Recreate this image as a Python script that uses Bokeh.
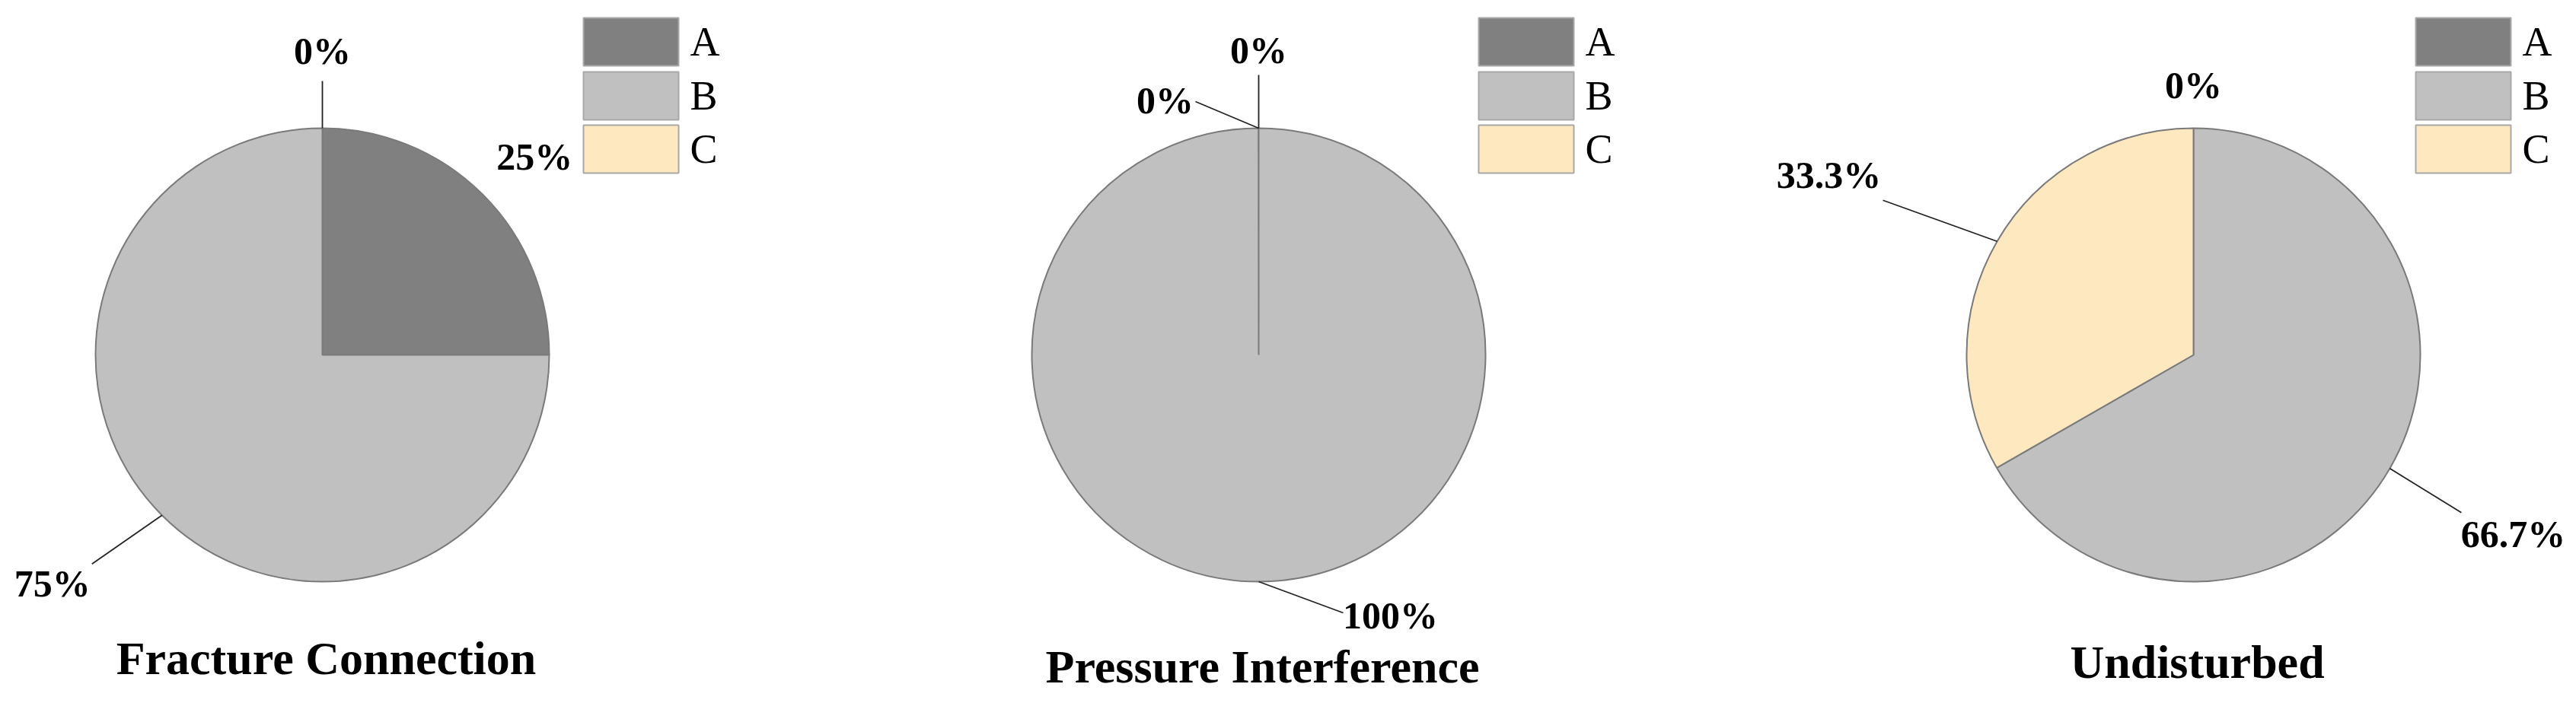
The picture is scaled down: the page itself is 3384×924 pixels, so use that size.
import math
from bokeh.plotting import figure
from bokeh.models import Range1d, ColumnDataSource
from bokeh.core.properties import value
from bokeh.embed import file_html
from bokeh.resources import INLINE

# ---------------- data ----------------
categories = ["A", "B", "C"]
panel_titles = ["Fracture Connection", "Pressure Interference", "Undisturbed"]
fracture_connection = [25.0, 75.0, 0.0]
pressure_interference = [0.0, 100.0, 0.0]
undisturbed = [0.0, 66.7, 33.3]
slice_colors = ["#808080", "#C0C0C0", "#FDE8C0"]

panels = [fracture_connection, pressure_interference, undisturbed]

# ---------------- layout (screen px, y down) ----------------
W, H = 3376, 916
centers = [(423, 466), (1653, 466), (2881, 466)]
R = 298
legend_x = [766, 1942, 3173]
legend_tops = [23, 94, 164]
BOX_W, BOX_H = 125, 63
title_y = [864, 875, 869]
# per panel, per category: (leader dx, leader dy, label dx, label dy) relative to slice edge midpoint
label_layout = [
    [(0, 0, 68, -50), (-92, 64, -52, 26), (0, -62, 0, -40)],
    [(0, -70, 0, -33), (111, 41, 62, 3), (-83, -35, -40, -2)],
    [(0, 0, 0, -57), (94, 58, 68, 28), (-150, -54, -71, -33)],
]

SERIF = value("Liberation Serif")
FULL_TURN_GAP = 1e-3  # SVG cannot draw an arc whose two ends coincide


def Y(sy):
    return H - sy  # screen y -> data y (data y increases upward)


p = figure(width=W, height=H, output_backend="svg", toolbar_location=None,
           x_range=Range1d(0, W), y_range=Range1d(0, H),
           x_axis_type=None, y_axis_type=None, min_border=0)
p.grid.visible = False
p.outline_line_color = None
p.background_fill_color = "white"
p.border_fill_color = "white"


def fmt(v):
    return ("%d%%" % round(v)) if abs(v - round(v)) < 1e-9 else ("%.1f%%" % v)


for k, vals in enumerate(panels):
    cx, cy = centers[k]
    total = sum(vals)
    cum = 0.0
    starts, ends, mids = [], [], []
    for v in vals:
        a0 = math.pi / 2 - 2 * math.pi * cum / total
        cum += v
        a1 = math.pi / 2 - 2 * math.pi * cum / total
        mids.append((a0 + a1) / 2)
        if a0 - a1 >= 2 * math.pi - 1e-9:
            a1 = a0 - (2 * math.pi - FULL_TURN_GAP)
        starts.append(a0)
        ends.append(a1)

    keep = [j for j, v in enumerate(vals) if v > 0]
    src = ColumnDataSource(dict(x=[cx] * len(keep), y=[Y(cy)] * len(keep),
                                start=[starts[j] for j in keep], end=[ends[j] for j in keep],
                                color=[slice_colors[j] for j in keep],
                                cat=[categories[j] for j in keep]))
    p.wedge(x="x", y="y", radius=R, start_angle="start", end_angle="end", direction="clock",
            fill_color="color", line_color="#7a7a7a", line_width=2, source=src)

    # labels and leader lines
    lx0, ly0, lx1, ly1, tx, ty, tt = [], [], [], [], [], [], []
    for j, v in enumerate(vals):
        ex = cx + R * math.cos(mids[j])
        ey = cy - R * math.sin(mids[j])
        ldx, ldy, tdx, tdy = label_layout[k][j]
        endx, endy = ex + ldx, ey + ldy
        if ldx or ldy:
            lx0.append(ex); ly0.append(Y(ey)); lx1.append(endx); ly1.append(Y(endy))
        tx.append(endx + tdx); ty.append(Y(endy + tdy)); tt.append(fmt(v))
    if lx0:
        p.segment(x0=lx0, y0=ly0, x1=lx1, y1=ly1, line_color="#222222", line_width=1.8)
    p.text(x=tx, y=ty, text=tt, text_font=SERIF, text_font_style="bold",
           text_font_size="50px", text_align="center", text_baseline="middle", text_color="black")

    # legend
    bx = legend_x[k]
    p.quad(left=[bx] * 3, right=[bx + BOX_W] * 3,
           top=[Y(t) for t in legend_tops], bottom=[Y(t + BOX_H) for t in legend_tops],
           fill_color=slice_colors, line_color="#a8a8a8", line_width=2)
    p.text(x=[bx + BOX_W + 15] * 3, y=[Y(t + BOX_H / 2) for t in legend_tops], text=categories,
           text_font=SERIF, text_font_size="54px", text_align="left", text_baseline="middle",
           text_color="black")

    # title
    p.text(x=[cx + 5], y=[Y(title_y[k])], text=[panel_titles[k]], text_font=SERIF,
           text_font_style="bold", text_font_size="62px", text_align="center",
           text_baseline="middle", text_color="black")

open("out.html", "w").write(file_html(p, INLINE))
